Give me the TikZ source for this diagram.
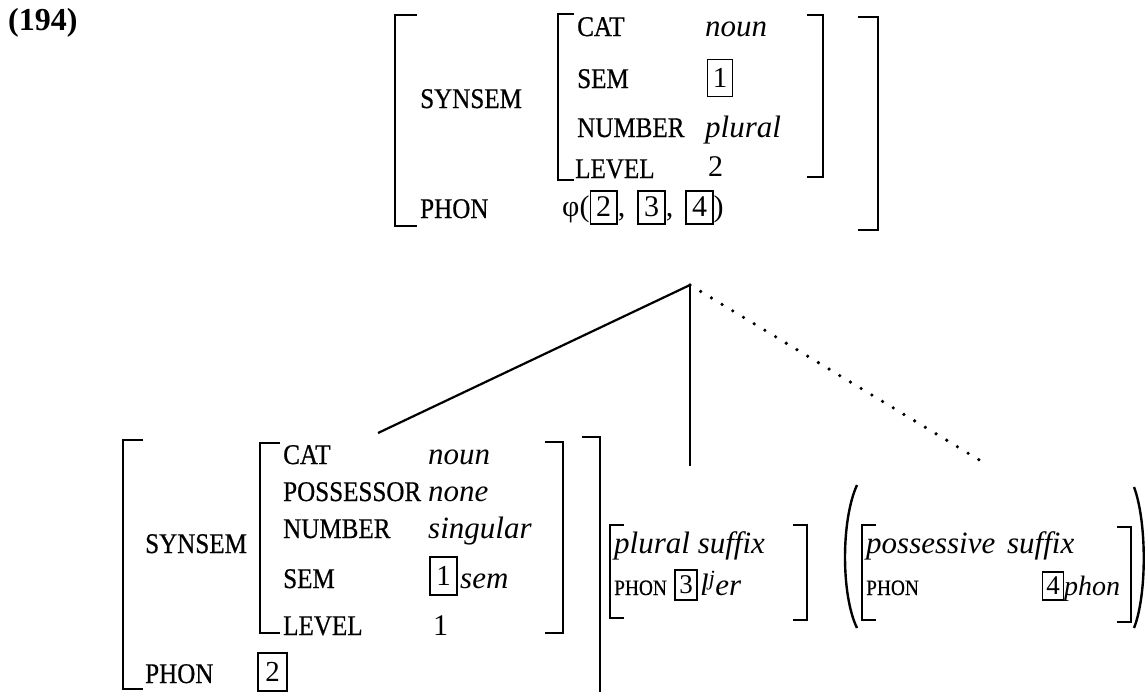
\documentclass[tikz,border=0pt]{standalone}
\usepackage{fontspec}
\setmainfont{Liberation Serif}
\newfontfamily\labfont[FakeStretch=0.88,FakeBold=0.6]{Liberation Serif}
\newcommand\tb[1]{{\setlength\fboxsep{0pt}\setlength\fboxrule{1.7pt}\fbox{\makebox[25pt]{\rule[-7pt]{0pt}{31pt}#1}}}}
\newcommand\lbrk[4]{\draw[brk] ({#1+#4},#2) -- (#1,#2) -- (#1,#3) -- ({#1+#4},#3);}
\newcommand\rbrk[4]{\draw[brk] ({#1-#4},#2) -- (#1,#2) -- (#1,#3) -- ({#1-#4},#3);}
\tikzset{
 brk/.style={line width=2.8pt, line cap=butt, line join=miter},
 lab/.style={anchor=base west, inner sep=0pt, font=\labfont\fontsize{28.5}{32}\selectfont},
 slab/.style={anchor=base west, inner sep=0pt, font=\labfont\fontsize{22}{26}\selectfont},
 val/.style={anchor=base west, inner sep=0pt, font=\rmfamily\fontsize{31}{36}\selectfont\itshape},
 num/.style={anchor=base west, inner sep=0pt, font=\rmfamily\fontsize{30}{36}\selectfont},
 tagbox/.style={draw, line width=1.7pt, inner sep=0pt, minimum width=26pt, minimum height=37pt, font=\rmfamily\fontsize{29}{34}\selectfont},
 conn/.style={line width=2.2pt},
 dotline/.style={line width=3.6pt, line cap=round, dash pattern=on 0pt off 12.5pt},
}
\begin{document}
\begin{tikzpicture}[x=1pt,y=-1pt]
\useasboundingbox (0,0) rectangle (1147,691);
\node[anchor=base west, inner sep=0pt, font=\fontsize{32}{36}\selectfont\bfseries] (ex) at (8,30) {(194)};
% top AVM
\lbrk{395}{15}{226}{22}
\rbrk{878}{17}{230}{20}
\lbrk{558}{14}{180}{16}
\rbrk{823}{15}{177}{16}
\node[lab] (tsyn) at (420,108) {SYNSEM};
\node[lab] (tphon) at (420,218) {PHON};
\node[lab] (tcat) at (577,36) {CAT};
\node[lab] (tsem) at (577,88) {SEM};
\node[lab] (tnum) at (577,137) {NUMBER};
\node[lab] (tlev) at (575,178) {LEVEL};
\node[val] (tcatv) at (705,36) {noun};
\node[tagbox, minimum width=25pt] (tsemv) at (720,78) {1};
\node[val] (tnumv) at (705,137) {plural};
\node[num] (tlevv) at (708,176) {2};
\node[num] (tphonv) at (562,216) {φ(\tb{2},\hspace{12pt}\tb{3},\hspace{12pt}\tb{4})};
% tree
\coordinate (apex) at (690,285);
\coordinate (lend) at (378,433);
\coordinate (mend) at (690,466);
\coordinate (rend) at (981,461);
\draw[conn] (apex) -- (lend);
\draw[conn] (apex) -- (mend);
\draw[dotline] (apex) -- (rend);
% bottom-left AVM
\lbrk{123}{440}{689}{20}
\draw[brk] (582,437) -- (600,437) -- (600,693);
\lbrk{260}{443}{633}{20}
\rbrk{563}{442}{633}{18}
\node[lab] (bsyn) at (145,553) {SYNSEM};
\node[lab] (bphon) at (145,683) {PHON};
\node[lab] (bcat) at (283,464) {CAT};
\node[lab] (bpos) at (283,501) {POSSESSOR};
\node[lab] (bnum) at (283,538) {NUMBER};
\node[lab] (bsem) at (283,588) {SEM};
\node[lab] (blev) at (283,635) {LEVEL};
\node[val] (bcatv) at (428,464) {noun};
\node[val] (bposv) at (428,501) {none};
\node[val] (bnumv) at (428,538) {singular};
\node[tagbox, minimum width=27pt, minimum height=38pt] (bsemb) at (443.5,576) {1};
\node[val] (bsemv) at (460,588) {sem};
\node[num] (blevv) at (433,635) {1};
\node[tagbox, minimum width=29pt, minimum height=38pt] (bphonv) at (272.5,672) {2};
% plural suffix
\lbrk{610}{525}{618}{14}
\rbrk{807}{525}{620}{14}
\node[val] (pl) at (614,553) {plural suffix};
\node[slab] (plphon) at (614,595) {PHON};
\node[tagbox, minimum width=22pt, minimum height=30pt, font=\rmfamily\fontsize{27}{30}\selectfont] (plb) at (686,585) {3};
\node[val] (plv) at (700,595) {l\textsuperscript{j}er};
% possessive suffix
\draw[brk, line width=2.4pt] (857,485) .. controls (841,520) and (841,595) .. (857,628);
\draw[brk, line width=2.4pt] (1134,487) .. controls (1147,522) and (1147,595) .. (1134,628);
\lbrk{862}{525}{620}{14}
\rbrk{1131}{527}{622}{14}
\node[val] (ps) at (866,553) {possessive\hspace{4pt} suffix};
\node[slab] (psphon) at (866,595) {PHON};
\node[tagbox, minimum width=21pt, minimum height=28pt, font=\rmfamily\fontsize{27}{30}\selectfont] (psb) at (1053,586) {4};
\node[val, font=\rmfamily\fontsize{28}{32}\selectfont\itshape] (psv) at (1064,595) {phon};
\end{tikzpicture}
\end{document}
